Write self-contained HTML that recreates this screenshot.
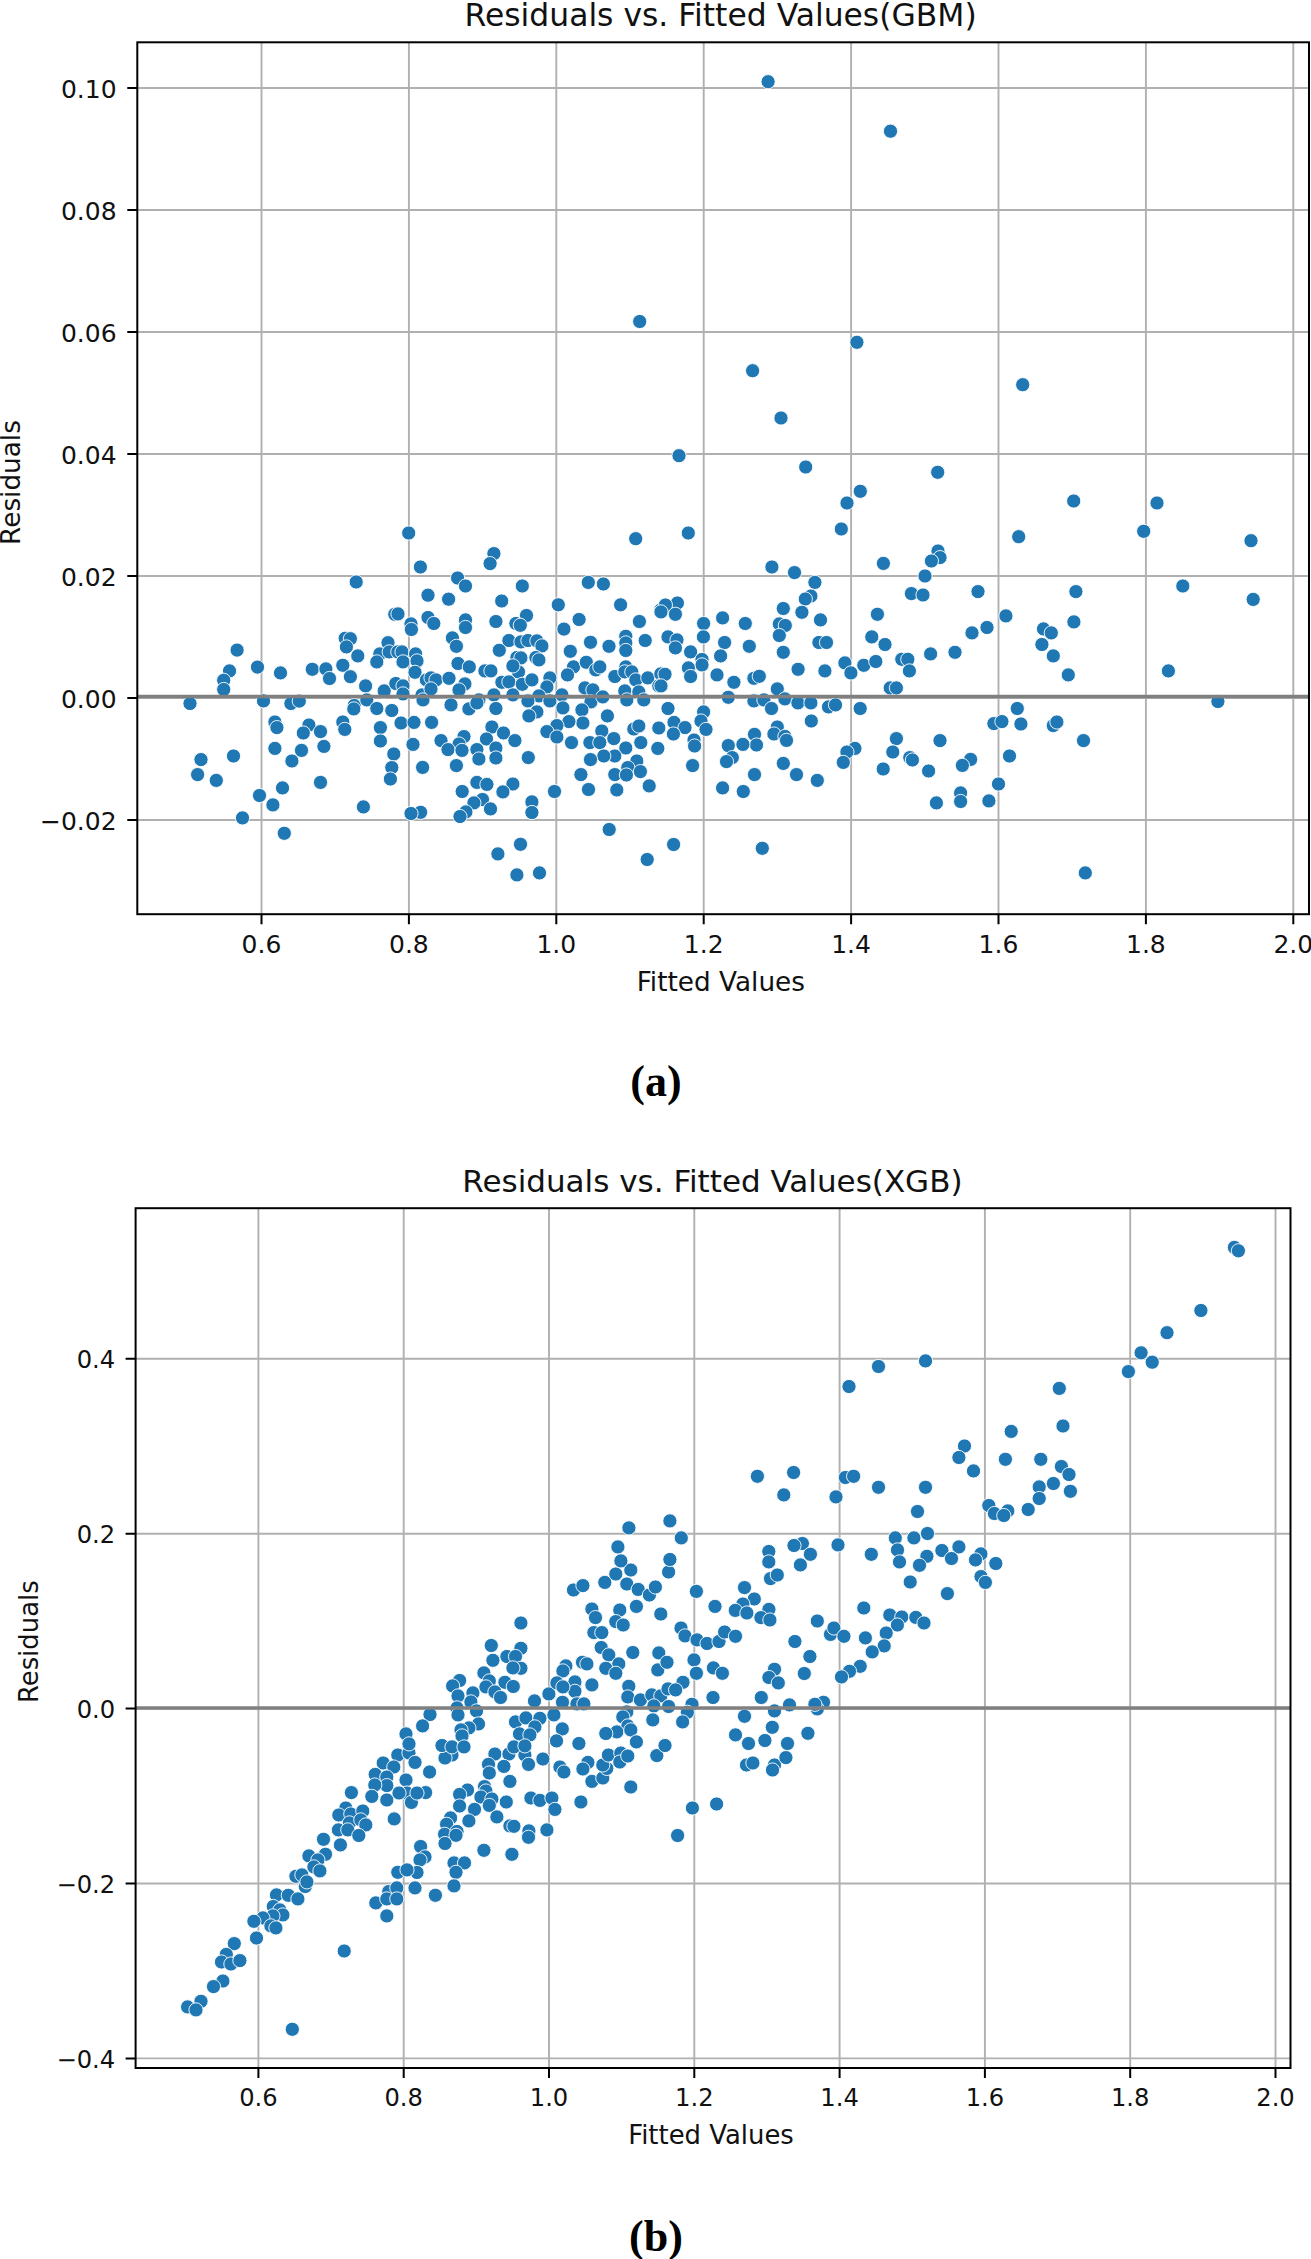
<!DOCTYPE html>
<html lang="en"><head><meta charset="utf-8"><title>Residuals vs. Fitted Values</title>
<style>html,body{margin:0;padding:0;background:#fff}svg{display:block}text{font-family:"DejaVu Sans","Liberation Sans",sans-serif;fill:#111}.t{font-size:24px}.g{stroke:#b0b0b0;stroke-width:1.9;fill:none}.k{stroke:#000;stroke-width:2;fill:none}.d circle{fill:#1f77b4;stroke:#fff;stroke-width:0.9}.cap{font-family:"Liberation Serif","DejaVu Serif",serif;font-weight:bold;fill:#000}</style></head><body>
<svg width="1311" height="2259" viewBox="0 0 1311 2259">
<rect width="1311" height="2259" fill="#fff"/>
<path class="g" d="M261.5 42.3V914.2M408.9 42.3V914.2M556.3 42.3V914.2M703.7 42.3V914.2M851.1 42.3V914.2M998.5 42.3V914.2M1145.9 42.3V914.2M1293.3 42.3V914.2M137.3 88.0H1309.0M137.3 210.0H1309.0M137.3 332.0H1309.0M137.3 454.0H1309.0M137.3 576.0H1309.0M137.3 698.0H1309.0M137.3 820.0H1309.0"/>
<g class="d">
<circle cx="768.1" cy="81.7" r="7.1"/><circle cx="890.5" cy="131.2" r="7.1"/><circle cx="639.7" cy="321.5" r="7.1"/><circle cx="856.9" cy="342.3" r="7.1"/><circle cx="752.6" cy="370.7" r="7.1"/><circle cx="781.0" cy="418.0" r="7.1"/><circle cx="679.0" cy="455.7" r="7.1"/><circle cx="805.7" cy="467.0" r="7.1"/><circle cx="937.7" cy="472.3" r="7.1"/><circle cx="860.3" cy="491.3" r="7.1"/><circle cx="847.0" cy="503.0" r="7.1"/><circle cx="688.3" cy="533.0" r="7.1"/><circle cx="635.7" cy="538.7" r="7.1"/><circle cx="841.3" cy="529.0" r="7.1"/><circle cx="408.7" cy="533.0" r="7.1"/><circle cx="1022.7" cy="384.7" r="7.1"/><circle cx="1073.7" cy="501.0" r="7.1"/><circle cx="1157.0" cy="503.0" r="7.1"/><circle cx="1018.7" cy="536.7" r="7.1"/><circle cx="1143.7" cy="531.3" r="7.1"/><circle cx="1251.0" cy="540.7" r="7.1"/><circle cx="356.2" cy="582.0" r="7.1"/><circle cx="394.8" cy="614.3" r="7.1"/><circle cx="345.2" cy="638.3" r="7.1"/><circle cx="350.4" cy="638.7" r="7.1"/><circle cx="346.4" cy="646.9" r="7.1"/><circle cx="388.0" cy="642.7" r="7.1"/><circle cx="237.1" cy="650.1" r="7.1"/><circle cx="357.8" cy="655.9" r="7.1"/><circle cx="379.8" cy="653.9" r="7.1"/><circle cx="389.2" cy="651.9" r="7.1"/><circle cx="397.8" cy="651.9" r="7.1"/><circle cx="376.8" cy="661.9" r="7.1"/><circle cx="342.8" cy="665.3" r="7.1"/><circle cx="229.5" cy="670.9" r="7.1"/><circle cx="257.5" cy="667.1" r="7.1"/><circle cx="280.5" cy="672.9" r="7.1"/><circle cx="312.3" cy="669.3" r="7.1"/><circle cx="325.9" cy="668.9" r="7.1"/><circle cx="329.5" cy="678.5" r="7.1"/><circle cx="350.4" cy="676.7" r="7.1"/><circle cx="223.7" cy="680.3" r="7.1"/><circle cx="223.7" cy="689.5" r="7.1"/><circle cx="365.6" cy="685.9" r="7.1"/><circle cx="384.2" cy="690.9" r="7.1"/><circle cx="395.8" cy="683.5" r="7.1"/><circle cx="190.0" cy="703.5" r="7.1"/><circle cx="263.5" cy="700.9" r="7.1"/><circle cx="290.9" cy="703.5" r="7.1"/><circle cx="299.3" cy="701.1" r="7.1"/><circle cx="354.2" cy="705.5" r="7.1"/><circle cx="353.8" cy="708.9" r="7.1"/><circle cx="366.8" cy="699.9" r="7.1"/><circle cx="376.8" cy="708.5" r="7.1"/><circle cx="391.8" cy="710.5" r="7.1"/><circle cx="493.9" cy="553.6" r="7.1"/><circle cx="490.1" cy="563.6" r="7.1"/><circle cx="420.4" cy="567.0" r="7.1"/><circle cx="457.6" cy="578.0" r="7.1"/><circle cx="465.5" cy="586.0" r="7.1"/><circle cx="522.3" cy="586.0" r="7.1"/><circle cx="588.3" cy="582.4" r="7.1"/><circle cx="603.4" cy="584.0" r="7.1"/><circle cx="428.0" cy="595.2" r="7.1"/><circle cx="448.6" cy="599.2" r="7.1"/><circle cx="501.7" cy="601.0" r="7.1"/><circle cx="558.3" cy="604.8" r="7.1"/><circle cx="620.6" cy="604.8" r="7.1"/><circle cx="660.8" cy="609.9" r="7.1"/><circle cx="526.5" cy="615.5" r="7.1"/><circle cx="398.0" cy="613.9" r="7.1"/><circle cx="428.0" cy="617.5" r="7.1"/><circle cx="433.8" cy="623.5" r="7.1"/><circle cx="465.5" cy="619.9" r="7.1"/><circle cx="465.5" cy="627.5" r="7.1"/><circle cx="495.9" cy="621.5" r="7.1"/><circle cx="515.9" cy="623.5" r="7.1"/><circle cx="520.3" cy="625.3" r="7.1"/><circle cx="411.0" cy="623.9" r="7.1"/><circle cx="411.4" cy="629.5" r="7.1"/><circle cx="579.1" cy="619.5" r="7.1"/><circle cx="563.9" cy="629.1" r="7.1"/><circle cx="639.4" cy="621.5" r="7.1"/><circle cx="452.4" cy="637.9" r="7.1"/><circle cx="456.4" cy="646.3" r="7.1"/><circle cx="508.9" cy="640.5" r="7.1"/><circle cx="520.9" cy="641.9" r="7.1"/><circle cx="527.9" cy="640.5" r="7.1"/><circle cx="536.9" cy="640.9" r="7.1"/><circle cx="541.9" cy="645.9" r="7.1"/><circle cx="499.3" cy="650.3" r="7.1"/><circle cx="590.5" cy="642.3" r="7.1"/><circle cx="609.0" cy="646.3" r="7.1"/><circle cx="645.2" cy="640.5" r="7.1"/><circle cx="625.8" cy="636.3" r="7.1"/><circle cx="625.8" cy="642.9" r="7.1"/><circle cx="625.8" cy="650.5" r="7.1"/><circle cx="570.3" cy="651.3" r="7.1"/><circle cx="516.9" cy="657.5" r="7.1"/><circle cx="520.9" cy="657.9" r="7.1"/><circle cx="535.9" cy="657.5" r="7.1"/><circle cx="538.9" cy="659.9" r="7.1"/><circle cx="402.0" cy="651.9" r="7.1"/><circle cx="403.0" cy="661.9" r="7.1"/><circle cx="415.6" cy="653.9" r="7.1"/><circle cx="417.0" cy="660.9" r="7.1"/><circle cx="458.0" cy="663.5" r="7.1"/><circle cx="469.3" cy="666.9" r="7.1"/><circle cx="415.0" cy="672.3" r="7.1"/><circle cx="484.9" cy="670.9" r="7.1"/><circle cx="490.9" cy="670.9" r="7.1"/><circle cx="518.5" cy="671.9" r="7.1"/><circle cx="512.9" cy="665.9" r="7.1"/><circle cx="573.5" cy="666.9" r="7.1"/><circle cx="586.3" cy="662.3" r="7.1"/><circle cx="567.5" cy="674.9" r="7.1"/><circle cx="595.8" cy="669.9" r="7.1"/><circle cx="599.8" cy="666.9" r="7.1"/><circle cx="614.8" cy="676.5" r="7.1"/><circle cx="625.8" cy="666.9" r="7.1"/><circle cx="624.8" cy="671.9" r="7.1"/><circle cx="631.8" cy="671.9" r="7.1"/><circle cx="635.8" cy="679.9" r="7.1"/><circle cx="647.8" cy="677.9" r="7.1"/><circle cx="660.8" cy="673.9" r="7.1"/><circle cx="426.4" cy="679.9" r="7.1"/><circle cx="431.0" cy="677.9" r="7.1"/><circle cx="436.0" cy="679.9" r="7.1"/><circle cx="449.0" cy="678.3" r="7.1"/><circle cx="464.9" cy="683.9" r="7.1"/><circle cx="501.9" cy="682.3" r="7.1"/><circle cx="508.9" cy="681.9" r="7.1"/><circle cx="522.3" cy="684.3" r="7.1"/><circle cx="531.9" cy="679.9" r="7.1"/><circle cx="549.9" cy="677.9" r="7.1"/><circle cx="546.9" cy="686.9" r="7.1"/><circle cx="584.9" cy="687.9" r="7.1"/><circle cx="592.9" cy="689.9" r="7.1"/><circle cx="624.8" cy="690.9" r="7.1"/><circle cx="638.8" cy="691.9" r="7.1"/><circle cx="658.8" cy="685.9" r="7.1"/><circle cx="403.0" cy="685.9" r="7.1"/><circle cx="403.0" cy="693.9" r="7.1"/><circle cx="422.0" cy="694.9" r="7.1"/><circle cx="423.0" cy="699.9" r="7.1"/><circle cx="431.0" cy="688.9" r="7.1"/><circle cx="459.0" cy="689.9" r="7.1"/><circle cx="478.9" cy="699.9" r="7.1"/><circle cx="493.9" cy="694.9" r="7.1"/><circle cx="512.9" cy="694.9" r="7.1"/><circle cx="538.9" cy="695.9" r="7.1"/><circle cx="527.9" cy="700.9" r="7.1"/><circle cx="549.9" cy="700.9" r="7.1"/><circle cx="561.9" cy="694.9" r="7.1"/><circle cx="562.9" cy="707.9" r="7.1"/><circle cx="590.9" cy="701.9" r="7.1"/><circle cx="602.8" cy="696.9" r="7.1"/><circle cx="626.8" cy="699.9" r="7.1"/><circle cx="643.8" cy="699.9" r="7.1"/><circle cx="451.0" cy="704.9" r="7.1"/><circle cx="468.9" cy="708.9" r="7.1"/><circle cx="476.9" cy="702.9" r="7.1"/><circle cx="495.9" cy="708.5" r="7.1"/><circle cx="536.9" cy="711.9" r="7.1"/><circle cx="528.9" cy="715.9" r="7.1"/><circle cx="581.9" cy="709.9" r="7.1"/><circle cx="607.4" cy="715.9" r="7.1"/><circle cx="771.9" cy="567.0" r="7.1"/><circle cx="794.5" cy="572.6" r="7.1"/><circle cx="883.4" cy="563.4" r="7.1"/><circle cx="814.9" cy="582.4" r="7.1"/><circle cx="810.9" cy="596.0" r="7.1"/><circle cx="805.3" cy="599.0" r="7.1"/><circle cx="911.4" cy="593.6" r="7.1"/><circle cx="677.4" cy="603.0" r="7.1"/><circle cx="665.4" cy="605.0" r="7.1"/><circle cx="661.0" cy="611.9" r="7.1"/><circle cx="675.4" cy="614.3" r="7.1"/><circle cx="783.3" cy="608.5" r="7.1"/><circle cx="801.9" cy="612.3" r="7.1"/><circle cx="722.6" cy="617.9" r="7.1"/><circle cx="703.6" cy="623.5" r="7.1"/><circle cx="745.3" cy="623.5" r="7.1"/><circle cx="820.5" cy="619.9" r="7.1"/><circle cx="877.4" cy="614.3" r="7.1"/><circle cx="779.3" cy="623.9" r="7.1"/><circle cx="785.3" cy="625.5" r="7.1"/><circle cx="779.3" cy="635.5" r="7.1"/><circle cx="703.4" cy="636.9" r="7.1"/><circle cx="668.0" cy="636.9" r="7.1"/><circle cx="677.0" cy="639.9" r="7.1"/><circle cx="724.6" cy="642.5" r="7.1"/><circle cx="749.3" cy="646.3" r="7.1"/><circle cx="675.4" cy="647.9" r="7.1"/><circle cx="818.9" cy="642.5" r="7.1"/><circle cx="826.5" cy="642.5" r="7.1"/><circle cx="871.8" cy="636.9" r="7.1"/><circle cx="885.0" cy="644.5" r="7.1"/><circle cx="690.6" cy="651.9" r="7.1"/><circle cx="783.3" cy="652.3" r="7.1"/><circle cx="720.6" cy="655.9" r="7.1"/><circle cx="702.0" cy="659.5" r="7.1"/><circle cx="702.0" cy="664.9" r="7.1"/><circle cx="688.4" cy="667.9" r="7.1"/><circle cx="690.6" cy="676.5" r="7.1"/><circle cx="665.0" cy="674.3" r="7.1"/><circle cx="661.0" cy="685.9" r="7.1"/><circle cx="717.0" cy="674.9" r="7.1"/><circle cx="733.9" cy="682.3" r="7.1"/><circle cx="753.9" cy="678.3" r="7.1"/><circle cx="759.3" cy="676.3" r="7.1"/><circle cx="798.1" cy="669.3" r="7.1"/><circle cx="824.9" cy="670.9" r="7.1"/><circle cx="844.9" cy="662.9" r="7.1"/><circle cx="850.9" cy="672.9" r="7.1"/><circle cx="863.8" cy="665.3" r="7.1"/><circle cx="875.8" cy="661.5" r="7.1"/><circle cx="901.8" cy="659.3" r="7.1"/><circle cx="907.8" cy="659.3" r="7.1"/><circle cx="909.4" cy="670.9" r="7.1"/><circle cx="777.3" cy="688.9" r="7.1"/><circle cx="890.2" cy="687.9" r="7.1"/><circle cx="896.4" cy="687.9" r="7.1"/><circle cx="728.3" cy="697.3" r="7.1"/><circle cx="753.9" cy="700.9" r="7.1"/><circle cx="763.9" cy="699.9" r="7.1"/><circle cx="784.9" cy="698.9" r="7.1"/><circle cx="771.5" cy="708.5" r="7.1"/><circle cx="797.9" cy="702.9" r="7.1"/><circle cx="810.9" cy="702.9" r="7.1"/><circle cx="828.5" cy="706.9" r="7.1"/><circle cx="835.5" cy="704.9" r="7.1"/><circle cx="860.2" cy="708.5" r="7.1"/><circle cx="668.0" cy="708.5" r="7.1"/><circle cx="703.6" cy="711.9" r="7.1"/><circle cx="938.0" cy="551.0" r="7.1"/><circle cx="940.0" cy="557.6" r="7.1"/><circle cx="931.4" cy="561.0" r="7.1"/><circle cx="925.0" cy="576.0" r="7.1"/><circle cx="923.0" cy="595.0" r="7.1"/><circle cx="978.0" cy="591.6" r="7.1"/><circle cx="1075.9" cy="591.6" r="7.1"/><circle cx="1182.8" cy="586.0" r="7.1"/><circle cx="1005.9" cy="615.9" r="7.1"/><circle cx="1073.9" cy="621.9" r="7.1"/><circle cx="987.0" cy="627.5" r="7.1"/><circle cx="972.0" cy="632.9" r="7.1"/><circle cx="1043.5" cy="628.9" r="7.1"/><circle cx="1051.3" cy="632.9" r="7.1"/><circle cx="1041.9" cy="644.5" r="7.1"/><circle cx="1053.3" cy="655.9" r="7.1"/><circle cx="930.6" cy="653.9" r="7.1"/><circle cx="955.0" cy="652.3" r="7.1"/><circle cx="1068.3" cy="674.9" r="7.1"/><circle cx="1168.4" cy="670.9" r="7.1"/><circle cx="1017.3" cy="708.5" r="7.1"/><circle cx="1253.2" cy="599.4" r="7.1"/><circle cx="1217.9" cy="701.5" r="7.1"/><circle cx="274.9" cy="722.0" r="7.1"/><circle cx="276.9" cy="727.6" r="7.1"/><circle cx="308.9" cy="725.0" r="7.1"/><circle cx="303.3" cy="733.0" r="7.1"/><circle cx="320.5" cy="731.6" r="7.1"/><circle cx="342.8" cy="722.0" r="7.1"/><circle cx="344.8" cy="729.4" r="7.1"/><circle cx="380.4" cy="727.6" r="7.1"/><circle cx="380.4" cy="741.0" r="7.1"/><circle cx="274.9" cy="748.4" r="7.1"/><circle cx="301.5" cy="750.4" r="7.1"/><circle cx="323.9" cy="746.4" r="7.1"/><circle cx="291.9" cy="761.0" r="7.1"/><circle cx="393.8" cy="754.0" r="7.1"/><circle cx="391.8" cy="767.6" r="7.1"/><circle cx="390.4" cy="779.0" r="7.1"/><circle cx="201.0" cy="759.6" r="7.1"/><circle cx="233.5" cy="756.0" r="7.1"/><circle cx="197.6" cy="774.6" r="7.1"/><circle cx="216.3" cy="780.4" r="7.1"/><circle cx="320.5" cy="782.4" r="7.1"/><circle cx="282.5" cy="787.9" r="7.1"/><circle cx="259.5" cy="795.5" r="7.1"/><circle cx="272.9" cy="804.9" r="7.1"/><circle cx="363.4" cy="806.9" r="7.1"/><circle cx="242.5" cy="817.9" r="7.1"/><circle cx="284.3" cy="833.3" r="7.1"/><circle cx="401.0" cy="723.0" r="7.1"/><circle cx="414.0" cy="722.4" r="7.1"/><circle cx="431.6" cy="722.4" r="7.1"/><circle cx="491.9" cy="727.0" r="7.1"/><circle cx="582.9" cy="723.0" r="7.1"/><circle cx="568.9" cy="721.6" r="7.1"/><circle cx="556.9" cy="725.6" r="7.1"/><circle cx="546.9" cy="731.6" r="7.1"/><circle cx="556.9" cy="737.0" r="7.1"/><circle cx="601.8" cy="731.0" r="7.1"/><circle cx="633.8" cy="729.0" r="7.1"/><circle cx="638.8" cy="726.0" r="7.1"/><circle cx="658.8" cy="728.0" r="7.1"/><circle cx="503.5" cy="733.0" r="7.1"/><circle cx="464.0" cy="736.6" r="7.1"/><circle cx="486.5" cy="739.0" r="7.1"/><circle cx="514.9" cy="740.6" r="7.1"/><circle cx="441.0" cy="740.6" r="7.1"/><circle cx="459.0" cy="744.0" r="7.1"/><circle cx="448.0" cy="749.6" r="7.1"/><circle cx="462.0" cy="750.4" r="7.1"/><circle cx="476.9" cy="749.6" r="7.1"/><circle cx="495.9" cy="748.0" r="7.1"/><circle cx="413.0" cy="744.4" r="7.1"/><circle cx="571.5" cy="742.6" r="7.1"/><circle cx="589.9" cy="742.6" r="7.1"/><circle cx="599.8" cy="742.6" r="7.1"/><circle cx="613.8" cy="738.6" r="7.1"/><circle cx="640.8" cy="742.6" r="7.1"/><circle cx="625.8" cy="748.0" r="7.1"/><circle cx="657.8" cy="748.4" r="7.1"/><circle cx="478.9" cy="759.0" r="7.1"/><circle cx="495.9" cy="758.0" r="7.1"/><circle cx="528.3" cy="757.6" r="7.1"/><circle cx="614.8" cy="756.0" r="7.1"/><circle cx="603.8" cy="756.0" r="7.1"/><circle cx="590.5" cy="759.6" r="7.1"/><circle cx="636.8" cy="761.0" r="7.1"/><circle cx="422.6" cy="767.4" r="7.1"/><circle cx="456.4" cy="765.6" r="7.1"/><circle cx="627.8" cy="767.6" r="7.1"/><circle cx="640.4" cy="771.6" r="7.1"/><circle cx="580.9" cy="774.6" r="7.1"/><circle cx="614.8" cy="774.6" r="7.1"/><circle cx="626.4" cy="775.0" r="7.1"/><circle cx="476.9" cy="782.4" r="7.1"/><circle cx="486.9" cy="784.4" r="7.1"/><circle cx="512.9" cy="784.0" r="7.1"/><circle cx="462.2" cy="791.5" r="7.1"/><circle cx="502.9" cy="791.9" r="7.1"/><circle cx="554.5" cy="791.5" r="7.1"/><circle cx="588.5" cy="789.5" r="7.1"/><circle cx="616.8" cy="789.9" r="7.1"/><circle cx="649.2" cy="785.9" r="7.1"/><circle cx="482.5" cy="799.5" r="7.1"/><circle cx="473.9" cy="802.9" r="7.1"/><circle cx="531.9" cy="801.9" r="7.1"/><circle cx="490.5" cy="808.9" r="7.1"/><circle cx="420.6" cy="812.3" r="7.1"/><circle cx="411.0" cy="813.5" r="7.1"/><circle cx="465.9" cy="811.9" r="7.1"/><circle cx="460.0" cy="816.5" r="7.1"/><circle cx="531.9" cy="812.5" r="7.1"/><circle cx="609.2" cy="829.5" r="7.1"/><circle cx="520.5" cy="844.3" r="7.1"/><circle cx="497.9" cy="853.9" r="7.1"/><circle cx="647.2" cy="859.5" r="7.1"/><circle cx="516.9" cy="874.9" r="7.1"/><circle cx="539.5" cy="872.9" r="7.1"/><circle cx="674.0" cy="722.4" r="7.1"/><circle cx="701.0" cy="721.0" r="7.1"/><circle cx="685.0" cy="727.6" r="7.1"/><circle cx="706.0" cy="729.4" r="7.1"/><circle cx="673.4" cy="734.0" r="7.1"/><circle cx="694.0" cy="740.0" r="7.1"/><circle cx="694.6" cy="746.0" r="7.1"/><circle cx="692.6" cy="765.6" r="7.1"/><circle cx="811.3" cy="721.0" r="7.1"/><circle cx="777.3" cy="727.0" r="7.1"/><circle cx="773.9" cy="734.0" r="7.1"/><circle cx="784.9" cy="736.4" r="7.1"/><circle cx="786.5" cy="740.4" r="7.1"/><circle cx="754.5" cy="734.4" r="7.1"/><circle cx="756.5" cy="745.0" r="7.1"/><circle cx="742.9" cy="744.4" r="7.1"/><circle cx="728.3" cy="745.6" r="7.1"/><circle cx="732.3" cy="757.6" r="7.1"/><circle cx="726.5" cy="761.6" r="7.1"/><circle cx="783.3" cy="763.4" r="7.1"/><circle cx="754.5" cy="774.6" r="7.1"/><circle cx="796.5" cy="774.6" r="7.1"/><circle cx="817.3" cy="780.4" r="7.1"/><circle cx="722.6" cy="787.9" r="7.1"/><circle cx="743.3" cy="791.5" r="7.1"/><circle cx="854.9" cy="748.4" r="7.1"/><circle cx="846.9" cy="752.0" r="7.1"/><circle cx="843.3" cy="762.4" r="7.1"/><circle cx="896.4" cy="738.6" r="7.1"/><circle cx="892.8" cy="752.0" r="7.1"/><circle cx="909.8" cy="757.6" r="7.1"/><circle cx="912.4" cy="760.0" r="7.1"/><circle cx="883.2" cy="769.0" r="7.1"/><circle cx="673.6" cy="844.5" r="7.1"/><circle cx="762.3" cy="848.3" r="7.1"/><circle cx="993.9" cy="723.6" r="7.1"/><circle cx="1001.9" cy="721.6" r="7.1"/><circle cx="1020.9" cy="724.0" r="7.1"/><circle cx="1053.3" cy="725.6" r="7.1"/><circle cx="1056.9" cy="722.0" r="7.1"/><circle cx="940.0" cy="740.6" r="7.1"/><circle cx="1083.5" cy="740.6" r="7.1"/><circle cx="1009.5" cy="756.0" r="7.1"/><circle cx="970.6" cy="759.4" r="7.1"/><circle cx="962.4" cy="765.4" r="7.1"/><circle cx="928.6" cy="771.0" r="7.1"/><circle cx="998.5" cy="784.0" r="7.1"/><circle cx="960.6" cy="792.9" r="7.1"/><circle cx="960.6" cy="801.5" r="7.1"/><circle cx="936.4" cy="802.9" r="7.1"/><circle cx="988.9" cy="800.9" r="7.1"/><circle cx="1085.3" cy="872.9" r="7.1"/>
</g>
<path d="M137.3 696.6H1309.0" stroke="#808080" stroke-width="3.5" fill="none"/>
<rect class="k" x="137.3" y="42.3" width="1171.7" height="871.9"/>
<path class="k" d="M261.5 914.2v10.0M408.9 914.2v10.0M556.3 914.2v10.0M703.7 914.2v10.0M851.1 914.2v10.0M998.5 914.2v10.0M1145.9 914.2v10.0M1293.3 914.2v10.0M137.3 88.0h-10.0M137.3 210.0h-10.0M137.3 332.0h-10.0M137.3 454.0h-10.0M137.3 576.0h-10.0M137.3 698.0h-10.0M137.3 820.0h-10.0"/>
<text x="261.5" y="953.2" font-size="25.0" text-anchor="middle">0.6</text>
<text x="408.9" y="953.2" font-size="25.0" text-anchor="middle">0.8</text>
<text x="556.3" y="953.2" font-size="25.0" text-anchor="middle">1.0</text>
<text x="703.7" y="953.2" font-size="25.0" text-anchor="middle">1.2</text>
<text x="851.1" y="953.2" font-size="25.0" text-anchor="middle">1.4</text>
<text x="998.5" y="953.2" font-size="25.0" text-anchor="middle">1.6</text>
<text x="1145.9" y="953.2" font-size="25.0" text-anchor="middle">1.8</text>
<text x="1293.3" y="953.2" font-size="25.0" text-anchor="middle">2.0</text>
<text x="116.6" y="97.7" font-size="25.0" text-anchor="end">0.10</text>
<text x="116.6" y="219.7" font-size="25.0" text-anchor="end">0.08</text>
<text x="116.6" y="341.7" font-size="25.0" text-anchor="end">0.06</text>
<text x="116.6" y="463.7" font-size="25.0" text-anchor="end">0.04</text>
<text x="116.6" y="585.7" font-size="25.0" text-anchor="end">0.02</text>
<text x="116.6" y="707.7" font-size="25.0" text-anchor="end">0.00</text>
<text x="116.6" y="829.7" font-size="25.0" text-anchor="end">−0.02</text>
<text x="720.6" y="26.0" font-size="31.40" text-anchor="middle">Residuals vs. Fitted Values(GBM)</text>
<text x="720.8" y="990.8" font-size="26.30" text-anchor="middle">Fitted Values</text>
<text transform="translate(20.4 482.5) rotate(-90)" font-size="26.30" text-anchor="middle">Residuals</text>
<text class="cap" x="656.0" y="1095.7" font-size="44.0" text-anchor="middle">(a)</text>
<path class="g" d="M258.4 1208.2V2068.0M403.7 1208.2V2068.0M549.0 1208.2V2068.0M694.3 1208.2V2068.0M839.6 1208.2V2068.0M984.9 1208.2V2068.0M1130.2 1208.2V2068.0M1275.5 1208.2V2068.0M135.6 1358.8H1290.5M135.6 1533.7H1290.5M135.6 1708.6H1290.5M135.6 1883.5H1290.5M135.6 2058.4H1290.5"/>
<g class="d">
<circle cx="234.3" cy="1943.6" r="7.1"/><circle cx="256.5" cy="1938.0" r="7.1"/><circle cx="226.3" cy="1954.4" r="7.1"/><circle cx="221.5" cy="1962.0" r="7.1"/><circle cx="230.9" cy="1964.0" r="7.1"/><circle cx="239.9" cy="1960.6" r="7.1"/><circle cx="222.9" cy="1981.0" r="7.1"/><circle cx="213.5" cy="1986.6" r="7.1"/><circle cx="201.0" cy="2001.3" r="7.1"/><circle cx="187.6" cy="2006.9" r="7.1"/><circle cx="196.0" cy="2009.9" r="7.1"/><circle cx="344.2" cy="1951.0" r="7.1"/><circle cx="292.3" cy="2029.3" r="7.1"/><circle cx="397.8" cy="1755.0" r="7.1"/><circle cx="383.2" cy="1763.0" r="7.1"/><circle cx="393.8" cy="1767.0" r="7.1"/><circle cx="375.2" cy="1774.4" r="7.1"/><circle cx="386.8" cy="1777.0" r="7.1"/><circle cx="386.8" cy="1785.6" r="7.1"/><circle cx="374.8" cy="1785.0" r="7.1"/><circle cx="371.8" cy="1796.4" r="7.1"/><circle cx="386.8" cy="1800.0" r="7.1"/><circle cx="351.4" cy="1792.6" r="7.1"/><circle cx="345.8" cy="1808.0" r="7.1"/><circle cx="338.8" cy="1815.0" r="7.1"/><circle cx="350.8" cy="1814.0" r="7.1"/><circle cx="362.8" cy="1811.0" r="7.1"/><circle cx="349.4" cy="1822.9" r="7.1"/><circle cx="360.8" cy="1819.9" r="7.1"/><circle cx="365.8" cy="1824.9" r="7.1"/><circle cx="338.4" cy="1829.9" r="7.1"/><circle cx="347.8" cy="1829.9" r="7.1"/><circle cx="358.8" cy="1835.5" r="7.1"/><circle cx="394.2" cy="1818.9" r="7.1"/><circle cx="323.5" cy="1839.3" r="7.1"/><circle cx="340.4" cy="1844.9" r="7.1"/><circle cx="325.5" cy="1854.3" r="7.1"/><circle cx="308.9" cy="1855.9" r="7.1"/><circle cx="317.9" cy="1859.9" r="7.1"/><circle cx="313.9" cy="1866.9" r="7.1"/><circle cx="319.9" cy="1870.9" r="7.1"/><circle cx="295.9" cy="1876.3" r="7.1"/><circle cx="301.9" cy="1874.9" r="7.1"/><circle cx="305.3" cy="1886.5" r="7.1"/><circle cx="306.9" cy="1881.9" r="7.1"/><circle cx="276.5" cy="1894.9" r="7.1"/><circle cx="288.3" cy="1895.3" r="7.1"/><circle cx="297.9" cy="1898.9" r="7.1"/><circle cx="273.3" cy="1906.5" r="7.1"/><circle cx="279.9" cy="1909.9" r="7.1"/><circle cx="282.9" cy="1914.9" r="7.1"/><circle cx="272.9" cy="1915.9" r="7.1"/><circle cx="262.9" cy="1917.9" r="7.1"/><circle cx="253.9" cy="1921.3" r="7.1"/><circle cx="270.9" cy="1925.9" r="7.1"/><circle cx="275.9" cy="1927.9" r="7.1"/><circle cx="397.8" cy="1872.3" r="7.1"/><circle cx="388.8" cy="1891.5" r="7.1"/><circle cx="396.8" cy="1887.9" r="7.1"/><circle cx="375.8" cy="1902.9" r="7.1"/><circle cx="386.8" cy="1898.9" r="7.1"/><circle cx="396.8" cy="1898.9" r="7.1"/><circle cx="386.8" cy="1915.9" r="7.1"/><circle cx="409.0" cy="1753.0" r="7.1"/><circle cx="415.0" cy="1762.4" r="7.1"/><circle cx="429.6" cy="1772.0" r="7.1"/><circle cx="406.0" cy="1780.0" r="7.1"/><circle cx="407.0" cy="1793.0" r="7.1"/><circle cx="399.0" cy="1793.0" r="7.1"/><circle cx="425.6" cy="1792.6" r="7.1"/><circle cx="411.4" cy="1802.4" r="7.1"/><circle cx="417.0" cy="1793.0" r="7.1"/><circle cx="452.0" cy="1755.0" r="7.1"/><circle cx="445.0" cy="1758.0" r="7.1"/><circle cx="494.9" cy="1754.0" r="7.1"/><circle cx="508.9" cy="1754.0" r="7.1"/><circle cx="524.9" cy="1755.0" r="7.1"/><circle cx="542.9" cy="1759.0" r="7.1"/><circle cx="488.5" cy="1764.4" r="7.1"/><circle cx="503.9" cy="1766.4" r="7.1"/><circle cx="528.5" cy="1764.4" r="7.1"/><circle cx="489.3" cy="1773.0" r="7.1"/><circle cx="509.9" cy="1781.4" r="7.1"/><circle cx="467.5" cy="1790.0" r="7.1"/><circle cx="459.6" cy="1794.4" r="7.1"/><circle cx="484.5" cy="1786.6" r="7.1"/><circle cx="485.9" cy="1791.0" r="7.1"/><circle cx="480.9" cy="1797.0" r="7.1"/><circle cx="491.9" cy="1799.0" r="7.1"/><circle cx="459.6" cy="1806.0" r="7.1"/><circle cx="474.5" cy="1809.4" r="7.1"/><circle cx="489.3" cy="1805.4" r="7.1"/><circle cx="506.3" cy="1802.0" r="7.1"/><circle cx="530.9" cy="1798.0" r="7.1"/><circle cx="539.9" cy="1800.4" r="7.1"/><circle cx="551.9" cy="1798.0" r="7.1"/><circle cx="554.9" cy="1809.4" r="7.1"/><circle cx="496.9" cy="1816.9" r="7.1"/><circle cx="450.6" cy="1817.9" r="7.1"/><circle cx="446.6" cy="1824.3" r="7.1"/><circle cx="468.9" cy="1820.9" r="7.1"/><circle cx="509.9" cy="1825.9" r="7.1"/><circle cx="513.9" cy="1826.3" r="7.1"/><circle cx="528.9" cy="1830.9" r="7.1"/><circle cx="528.5" cy="1837.3" r="7.1"/><circle cx="546.9" cy="1829.9" r="7.1"/><circle cx="444.6" cy="1834.3" r="7.1"/><circle cx="457.0" cy="1831.5" r="7.1"/><circle cx="456.0" cy="1835.3" r="7.1"/><circle cx="445.0" cy="1843.5" r="7.1"/><circle cx="420.6" cy="1846.5" r="7.1"/><circle cx="425.0" cy="1856.9" r="7.1"/><circle cx="420.0" cy="1859.9" r="7.1"/><circle cx="417.0" cy="1872.5" r="7.1"/><circle cx="407.0" cy="1869.9" r="7.1"/><circle cx="483.9" cy="1850.3" r="7.1"/><circle cx="511.9" cy="1854.3" r="7.1"/><circle cx="454.0" cy="1862.9" r="7.1"/><circle cx="464.5" cy="1862.9" r="7.1"/><circle cx="456.0" cy="1872.3" r="7.1"/><circle cx="454.0" cy="1885.9" r="7.1"/><circle cx="415.0" cy="1887.9" r="7.1"/><circle cx="435.4" cy="1895.3" r="7.1"/><circle cx="559.9" cy="1767.0" r="7.1"/><circle cx="563.9" cy="1772.0" r="7.1"/><circle cx="587.9" cy="1762.4" r="7.1"/><circle cx="582.9" cy="1769.0" r="7.1"/><circle cx="591.9" cy="1781.4" r="7.1"/><circle cx="602.8" cy="1778.0" r="7.1"/><circle cx="606.8" cy="1768.4" r="7.1"/><circle cx="602.8" cy="1765.0" r="7.1"/><circle cx="608.4" cy="1755.0" r="7.1"/><circle cx="620.8" cy="1753.0" r="7.1"/><circle cx="619.8" cy="1762.0" r="7.1"/><circle cx="627.8" cy="1756.0" r="7.1"/><circle cx="656.8" cy="1755.6" r="7.1"/><circle cx="630.8" cy="1787.0" r="7.1"/><circle cx="580.9" cy="1802.0" r="7.1"/><circle cx="746.5" cy="1765.0" r="7.1"/><circle cx="752.9" cy="1763.0" r="7.1"/><circle cx="774.5" cy="1765.0" r="7.1"/><circle cx="772.5" cy="1770.0" r="7.1"/><circle cx="785.9" cy="1757.6" r="7.1"/><circle cx="692.4" cy="1808.0" r="7.1"/><circle cx="716.6" cy="1804.0" r="7.1"/><circle cx="677.6" cy="1835.5" r="7.1"/><circle cx="520.9" cy="1623.0" r="7.1"/><circle cx="491.3" cy="1645.5" r="7.1"/><circle cx="520.9" cy="1648.3" r="7.1"/><circle cx="506.9" cy="1656.5" r="7.1"/><circle cx="515.5" cy="1656.5" r="7.1"/><circle cx="492.9" cy="1660.3" r="7.1"/><circle cx="520.9" cy="1668.3" r="7.1"/><circle cx="512.9" cy="1667.9" r="7.1"/><circle cx="483.9" cy="1672.9" r="7.1"/><circle cx="489.3" cy="1680.9" r="7.1"/><circle cx="485.9" cy="1686.9" r="7.1"/><circle cx="459.6" cy="1680.5" r="7.1"/><circle cx="452.6" cy="1685.9" r="7.1"/><circle cx="504.9" cy="1682.3" r="7.1"/><circle cx="513.3" cy="1686.5" r="7.1"/><circle cx="458.0" cy="1695.9" r="7.1"/><circle cx="472.9" cy="1692.9" r="7.1"/><circle cx="470.9" cy="1701.9" r="7.1"/><circle cx="494.9" cy="1691.9" r="7.1"/><circle cx="500.5" cy="1697.5" r="7.1"/><circle cx="534.5" cy="1700.9" r="7.1"/><circle cx="548.9" cy="1693.9" r="7.1"/><circle cx="457.0" cy="1707.9" r="7.1"/><circle cx="458.0" cy="1714.9" r="7.1"/><circle cx="476.5" cy="1710.9" r="7.1"/><circle cx="430.0" cy="1714.5" r="7.1"/><circle cx="422.6" cy="1725.9" r="7.1"/><circle cx="478.5" cy="1723.9" r="7.1"/><circle cx="468.9" cy="1727.9" r="7.1"/><circle cx="461.0" cy="1729.9" r="7.1"/><circle cx="462.0" cy="1735.9" r="7.1"/><circle cx="406.0" cy="1733.9" r="7.1"/><circle cx="409.0" cy="1743.9" r="7.1"/><circle cx="442.0" cy="1745.5" r="7.1"/><circle cx="452.0" cy="1746.9" r="7.1"/><circle cx="464.0" cy="1746.9" r="7.1"/><circle cx="515.5" cy="1721.9" r="7.1"/><circle cx="525.9" cy="1717.9" r="7.1"/><circle cx="539.9" cy="1718.3" r="7.1"/><circle cx="534.9" cy="1726.9" r="7.1"/><circle cx="519.5" cy="1733.9" r="7.1"/><circle cx="529.9" cy="1734.9" r="7.1"/><circle cx="513.9" cy="1746.9" r="7.1"/><circle cx="524.9" cy="1745.9" r="7.1"/><circle cx="573.5" cy="1590.0" r="7.1"/><circle cx="582.9" cy="1585.6" r="7.1"/><circle cx="604.8" cy="1582.4" r="7.1"/><circle cx="615.8" cy="1574.0" r="7.1"/><circle cx="630.8" cy="1570.0" r="7.1"/><circle cx="626.8" cy="1584.0" r="7.1"/><circle cx="638.2" cy="1589.4" r="7.1"/><circle cx="649.4" cy="1595.0" r="7.1"/><circle cx="655.4" cy="1587.0" r="7.1"/><circle cx="636.4" cy="1606.4" r="7.1"/><circle cx="619.8" cy="1610.0" r="7.1"/><circle cx="591.9" cy="1609.0" r="7.1"/><circle cx="595.5" cy="1617.6" r="7.1"/><circle cx="615.8" cy="1621.6" r="7.1"/><circle cx="623.2" cy="1625.0" r="7.1"/><circle cx="660.8" cy="1614.0" r="7.1"/><circle cx="593.9" cy="1632.6" r="7.1"/><circle cx="601.8" cy="1632.6" r="7.1"/><circle cx="601.2" cy="1647.5" r="7.1"/><circle cx="608.8" cy="1654.9" r="7.1"/><circle cx="632.8" cy="1652.5" r="7.1"/><circle cx="658.8" cy="1652.9" r="7.1"/><circle cx="618.8" cy="1663.9" r="7.1"/><circle cx="605.8" cy="1668.3" r="7.1"/><circle cx="615.8" cy="1673.3" r="7.1"/><circle cx="657.8" cy="1669.9" r="7.1"/><circle cx="582.5" cy="1662.3" r="7.1"/><circle cx="586.9" cy="1663.9" r="7.1"/><circle cx="565.9" cy="1665.9" r="7.1"/><circle cx="562.9" cy="1670.9" r="7.1"/><circle cx="556.9" cy="1682.9" r="7.1"/><circle cx="574.9" cy="1681.9" r="7.1"/><circle cx="591.9" cy="1684.9" r="7.1"/><circle cx="574.9" cy="1691.3" r="7.1"/><circle cx="562.9" cy="1686.9" r="7.1"/><circle cx="562.5" cy="1702.3" r="7.1"/><circle cx="576.9" cy="1703.9" r="7.1"/><circle cx="583.9" cy="1703.9" r="7.1"/><circle cx="628.8" cy="1686.3" r="7.1"/><circle cx="627.8" cy="1696.9" r="7.1"/><circle cx="640.4" cy="1699.9" r="7.1"/><circle cx="651.8" cy="1694.9" r="7.1"/><circle cx="660.8" cy="1695.9" r="7.1"/><circle cx="653.8" cy="1705.9" r="7.1"/><circle cx="553.9" cy="1714.9" r="7.1"/><circle cx="626.8" cy="1711.9" r="7.1"/><circle cx="622.8" cy="1716.9" r="7.1"/><circle cx="652.8" cy="1719.9" r="7.1"/><circle cx="562.3" cy="1728.9" r="7.1"/><circle cx="556.5" cy="1740.9" r="7.1"/><circle cx="578.9" cy="1743.5" r="7.1"/><circle cx="627.8" cy="1725.9" r="7.1"/><circle cx="616.8" cy="1731.9" r="7.1"/><circle cx="605.8" cy="1733.5" r="7.1"/><circle cx="630.8" cy="1729.9" r="7.1"/><circle cx="636.4" cy="1741.9" r="7.1"/><circle cx="668.6" cy="1572.0" r="7.1"/><circle cx="696.4" cy="1591.4" r="7.1"/><circle cx="681.0" cy="1628.0" r="7.1"/><circle cx="685.0" cy="1635.9" r="7.1"/><circle cx="697.0" cy="1639.9" r="7.1"/><circle cx="707.0" cy="1643.5" r="7.1"/><circle cx="719.0" cy="1641.5" r="7.1"/><circle cx="724.6" cy="1632.0" r="7.1"/><circle cx="735.5" cy="1636.3" r="7.1"/><circle cx="715.0" cy="1606.4" r="7.1"/><circle cx="744.5" cy="1587.6" r="7.1"/><circle cx="754.3" cy="1599.0" r="7.1"/><circle cx="742.9" cy="1604.0" r="7.1"/><circle cx="735.3" cy="1610.4" r="7.1"/><circle cx="746.9" cy="1613.0" r="7.1"/><circle cx="768.9" cy="1609.4" r="7.1"/><circle cx="760.9" cy="1617.6" r="7.1"/><circle cx="769.9" cy="1620.0" r="7.1"/><circle cx="770.5" cy="1578.6" r="7.1"/><circle cx="777.3" cy="1575.0" r="7.1"/><circle cx="817.3" cy="1621.0" r="7.1"/><circle cx="794.9" cy="1641.5" r="7.1"/><circle cx="809.9" cy="1656.5" r="7.1"/><circle cx="830.5" cy="1634.4" r="7.1"/><circle cx="833.9" cy="1628.0" r="7.1"/><circle cx="843.9" cy="1636.3" r="7.1"/><circle cx="774.5" cy="1669.3" r="7.1"/><circle cx="768.9" cy="1677.5" r="7.1"/><circle cx="778.3" cy="1682.9" r="7.1"/><circle cx="804.3" cy="1673.5" r="7.1"/><circle cx="713.4" cy="1667.9" r="7.1"/><circle cx="722.4" cy="1673.3" r="7.1"/><circle cx="694.0" cy="1659.9" r="7.1"/><circle cx="696.4" cy="1673.3" r="7.1"/><circle cx="667.0" cy="1662.3" r="7.1"/><circle cx="683.0" cy="1682.3" r="7.1"/><circle cx="668.0" cy="1688.9" r="7.1"/><circle cx="675.6" cy="1689.9" r="7.1"/><circle cx="713.0" cy="1697.5" r="7.1"/><circle cx="761.3" cy="1697.5" r="7.1"/><circle cx="692.0" cy="1704.3" r="7.1"/><circle cx="668.6" cy="1706.5" r="7.1"/><circle cx="687.4" cy="1712.3" r="7.1"/><circle cx="682.6" cy="1721.9" r="7.1"/><circle cx="789.5" cy="1704.9" r="7.1"/><circle cx="774.5" cy="1710.9" r="7.1"/><circle cx="823.5" cy="1702.3" r="7.1"/><circle cx="817.3" cy="1708.9" r="7.1"/><circle cx="814.9" cy="1704.3" r="7.1"/><circle cx="744.5" cy="1716.3" r="7.1"/><circle cx="772.3" cy="1727.3" r="7.1"/><circle cx="735.5" cy="1734.9" r="7.1"/><circle cx="764.9" cy="1740.5" r="7.1"/><circle cx="748.5" cy="1743.5" r="7.1"/><circle cx="787.5" cy="1743.5" r="7.1"/><circle cx="807.9" cy="1733.3" r="7.1"/><circle cx="665.0" cy="1745.5" r="7.1"/><circle cx="910.2" cy="1582.0" r="7.1"/><circle cx="863.8" cy="1608.0" r="7.1"/><circle cx="889.8" cy="1615.0" r="7.1"/><circle cx="901.8" cy="1617.0" r="7.1"/><circle cx="915.8" cy="1617.4" r="7.1"/><circle cx="897.4" cy="1625.0" r="7.1"/><circle cx="886.2" cy="1633.0" r="7.1"/><circle cx="865.4" cy="1637.9" r="7.1"/><circle cx="884.2" cy="1645.9" r="7.1"/><circle cx="872.2" cy="1651.9" r="7.1"/><circle cx="860.2" cy="1666.3" r="7.1"/><circle cx="849.5" cy="1671.3" r="7.1"/><circle cx="841.5" cy="1676.9" r="7.1"/><circle cx="981.0" cy="1576.6" r="7.1"/><circle cx="985.4" cy="1582.4" r="7.1"/><circle cx="947.4" cy="1593.6" r="7.1"/><circle cx="924.0" cy="1623.0" r="7.1"/><circle cx="757.4" cy="1476.3" r="7.1"/><circle cx="783.8" cy="1494.9" r="7.1"/><circle cx="669.9" cy="1520.9" r="7.1"/><circle cx="628.9" cy="1527.9" r="7.1"/><circle cx="681.3" cy="1537.9" r="7.1"/><circle cx="617.9" cy="1546.9" r="7.1"/><circle cx="669.9" cy="1559.5" r="7.1"/><circle cx="620.9" cy="1560.9" r="7.1"/><circle cx="768.8" cy="1551.5" r="7.1"/><circle cx="768.8" cy="1561.9" r="7.1"/><circle cx="793.6" cy="1472.5" r="7.1"/><circle cx="1011.2" cy="1431.4" r="7.1"/><circle cx="964.5" cy="1446.0" r="7.1"/><circle cx="958.9" cy="1457.5" r="7.1"/><circle cx="973.5" cy="1470.9" r="7.1"/><circle cx="1005.4" cy="1459.3" r="7.1"/><circle cx="1040.8" cy="1459.3" r="7.1"/><circle cx="845.4" cy="1477.5" r="7.1"/><circle cx="853.6" cy="1476.3" r="7.1"/><circle cx="878.5" cy="1487.3" r="7.1"/><circle cx="925.5" cy="1487.3" r="7.1"/><circle cx="836.0" cy="1496.9" r="7.1"/><circle cx="917.5" cy="1511.5" r="7.1"/><circle cx="1039.2" cy="1486.9" r="7.1"/><circle cx="1039.2" cy="1498.5" r="7.1"/><circle cx="1028.2" cy="1509.5" r="7.1"/><circle cx="988.8" cy="1505.5" r="7.1"/><circle cx="994.4" cy="1513.5" r="7.1"/><circle cx="1007.8" cy="1510.9" r="7.1"/><circle cx="1003.8" cy="1515.5" r="7.1"/><circle cx="895.3" cy="1537.9" r="7.1"/><circle cx="913.9" cy="1537.9" r="7.1"/><circle cx="927.5" cy="1533.5" r="7.1"/><circle cx="897.5" cy="1549.9" r="7.1"/><circle cx="899.5" cy="1561.9" r="7.1"/><circle cx="871.3" cy="1554.3" r="7.1"/><circle cx="838.0" cy="1544.9" r="7.1"/><circle cx="802.4" cy="1543.5" r="7.1"/><circle cx="794.0" cy="1545.5" r="7.1"/><circle cx="810.4" cy="1554.3" r="7.1"/><circle cx="800.4" cy="1564.9" r="7.1"/><circle cx="926.9" cy="1556.3" r="7.1"/><circle cx="941.9" cy="1550.5" r="7.1"/><circle cx="958.9" cy="1546.9" r="7.1"/><circle cx="951.5" cy="1558.5" r="7.1"/><circle cx="919.5" cy="1565.3" r="7.1"/><circle cx="980.9" cy="1553.9" r="7.1"/><circle cx="975.5" cy="1559.9" r="7.1"/><circle cx="995.8" cy="1563.5" r="7.1"/><circle cx="1063.0" cy="1426.0" r="7.1"/><circle cx="1061.4" cy="1466.5" r="7.1"/><circle cx="1069.0" cy="1474.5" r="7.1"/><circle cx="1070.4" cy="1491.3" r="7.1"/><circle cx="1053.4" cy="1483.5" r="7.1"/><circle cx="878.5" cy="1366.5" r="7.1"/><circle cx="925.5" cy="1360.9" r="7.1"/><circle cx="849.0" cy="1386.5" r="7.1"/><circle cx="1234.4" cy="1247.4" r="7.1"/><circle cx="1238.4" cy="1250.8" r="7.1"/><circle cx="1200.9" cy="1310.5" r="7.1"/><circle cx="1167.0" cy="1332.7" r="7.1"/><circle cx="1141.1" cy="1352.8" r="7.1"/><circle cx="1152.2" cy="1362.2" r="7.1"/><circle cx="1128.4" cy="1371.6" r="7.1"/><circle cx="1059.3" cy="1388.4" r="7.1"/>
</g>
<path d="M135.6 1707.9H1290.5" stroke="#808080" stroke-width="3.5" fill="none"/>
<rect class="k" x="135.6" y="1208.2" width="1154.9" height="859.8"/>
<path class="k" d="M258.4 2068.0v10.0M403.7 2068.0v10.0M549.0 2068.0v10.0M694.3 2068.0v10.0M839.6 2068.0v10.0M984.9 2068.0v10.0M1130.2 2068.0v10.0M1275.5 2068.0v10.0M135.6 1358.8h-10.0M135.6 1533.7h-10.0M135.6 1708.6h-10.0M135.6 1883.5h-10.0M135.6 2058.4h-10.0"/>
<text x="258.4" y="2106.0" font-size="24.2" text-anchor="middle">0.6</text>
<text x="403.7" y="2106.0" font-size="24.2" text-anchor="middle">0.8</text>
<text x="549.0" y="2106.0" font-size="24.2" text-anchor="middle">1.0</text>
<text x="694.3" y="2106.0" font-size="24.2" text-anchor="middle">1.2</text>
<text x="839.6" y="2106.0" font-size="24.2" text-anchor="middle">1.4</text>
<text x="984.9" y="2106.0" font-size="24.2" text-anchor="middle">1.6</text>
<text x="1130.2" y="2106.0" font-size="24.2" text-anchor="middle">1.8</text>
<text x="1275.5" y="2106.0" font-size="24.2" text-anchor="middle">2.0</text>
<text x="115.2" y="1368.4" font-size="24.2" text-anchor="end">0.4</text>
<text x="115.2" y="1543.3" font-size="24.2" text-anchor="end">0.2</text>
<text x="115.2" y="1718.2" font-size="24.2" text-anchor="end">0.0</text>
<text x="115.2" y="1893.1" font-size="24.2" text-anchor="end">−0.2</text>
<text x="115.2" y="2068.0" font-size="24.2" text-anchor="end">−0.4</text>
<text x="712.4" y="1192.0" font-size="31.00" text-anchor="middle">Residuals vs. Fitted Values(XGB)</text>
<text x="711.0" y="2143.5" font-size="25.90" text-anchor="middle">Fitted Values</text>
<text transform="translate(37.9 1641.7) rotate(-90)" font-size="25.90" text-anchor="middle">Residuals</text>
<text class="cap" x="656.0" y="2250.5" font-size="44.0" text-anchor="middle">(b)</text>
</svg></body></html>
